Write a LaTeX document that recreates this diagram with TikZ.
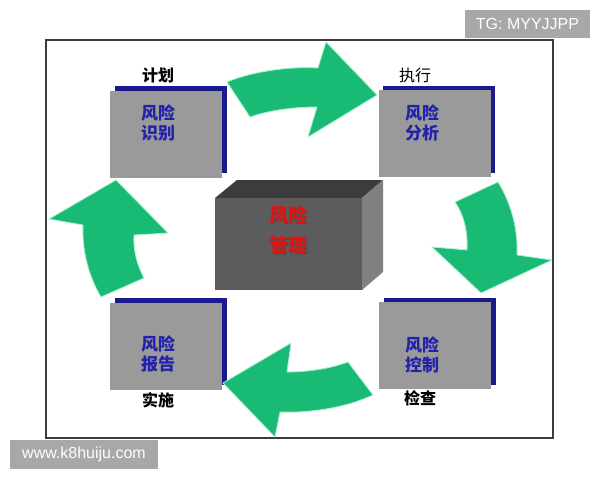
\documentclass[tikz,border=0pt]{standalone}
\usepackage{fontspec}
\setmainfont{Liberation Sans}
\newfontfamily\cjk{Noto Sans CJK SC}
\definecolor{arrowgreen}{RGB}{24,186,116}
\definecolor{arrowglow}{RGB}{170,240,205}
\definecolor{boxgray}{RGB}{154,154,154}
\definecolor{lineblue}{RGB}{26,26,140}
\definecolor{textblue}{RGB}{34,34,170}
\definecolor{frontgray}{RGB}{92,92,92}
\definecolor{topgray}{RGB}{60,60,60}
\definecolor{sidegray}{RGB}{128,128,128}
\definecolor{framegray}{RGB}{60,60,60}
\definecolor{wmgray}{RGB}{168,168,168}
\definecolor{redtext}{RGB}{225,20,20}
\begin{document}
\begin{tikzpicture}[x=1pt,y=-1pt,
  grayboxstyle/.style={fill=boxgray, minimum width=112pt, minimum height=87pt, inner sep=0pt},
  blueshadow/.style={fill=lineblue, minimum width=112pt, minimum height=87pt, inner sep=0pt},
  boxtext/.style={text=textblue, font={\cjk\bfseries\fontsize{17}{20}\selectfont}, align=center, inner sep=0pt},
  steplabel/.style={text=black, font={\cjk\bfseries\fontsize{16}{18}\selectfont}, inner sep=0pt},
  greenarrow/.style={fill=arrowgreen, draw=arrowglow, line width=0.8pt, line join=round},
  wmbox/.style={fill=wmgray, text=white, font={\fontsize{16}{18}\selectfont}, inner sep=0pt}
]
\useasboundingbox (0,0) rectangle (600,480);
\fill[white] (0,0) rectangle (600,480);

% frame
\draw[framegray, line width=1.1pt] (46,40) rectangle (553,438);

% watermarks
\node[wmbox, minimum width=125pt, minimum height=28pt] (wm1) at (527.5,24) {TG: MYYJJPP};
\node[wmbox, minimum width=148pt, minimum height=29pt] (wm2) at (84,454.5) {www.k8huiju.com};

% boxes: blue shadow then gray
\foreach \n/\x/\y in {tl/166/134, tr/434.5/133.5, bl/166/346, br/435/345.5}{
  \node[blueshadow, xshift=4.5pt, yshift=4.5pt] (s\n) at (\x,\y) {};
  \node[grayboxstyle] (b\n) at (\x,\y) {};
}

\node[boxtext] (ttl) at (158,123) {风险\\识别};
\node[boxtext] (ttr) at (422,122.5) {风险\\分析};
\node[boxtext] (tbl) at (158,354) {风险\\报告};
\node[boxtext] (tbr) at (422,355) {风险\\控制};

\node[steplabel] (l1) at (158,75) {计划};
\node[steplabel, font={\cjk\fontsize{16}{18}\selectfont}] (l2) at (415,75) {执行};
\node[steplabel] (l3) at (158,400) {实施};
\node[steplabel] (l4) at (420,398) {检查};

% center block
\fill[topgray] (215,198) -- (237,180) -- (383,180) -- (362,198) -- cycle;
\fill[sidegray] (362,198) -- (383,180) -- (383,272) -- (362,290) -- cycle;
\node[fill=frontgray, minimum width=147pt, minimum height=92pt, inner sep=0pt] (core) at (288.5,244) {};
\node[text=black!70, font={\cjk\bfseries\fontsize{19}{30}\selectfont}, align=center, inner sep=0pt] (coretxts) at (289.2,231.2) {风险\\管理};
\node[text=redtext, font={\cjk\bfseries\fontsize{19}{30}\selectfont}, align=center, inner sep=0pt] (coretxt) at (288,230) {风险\\管理};

% green arrows
\path[greenarrow] (227,82) .. controls (248,73) and (285,66) .. (318,68) -- (326,42) -- (377,95) -- (308,137) -- (317,107) .. controls (295,107) and (270,110) .. (250,117) -- cycle;
\path[greenarrow] (498,182) .. controls (512,205) and (518,230) .. (517,255) -- (552,260) -- (481,293) -- (432,247) -- (467,250) .. controls (468,232) and (464,215) .. (455,202) -- cycle;
\path[greenarrow] (373,395) .. controls (345,408) and (310,413) .. (280,412) -- (275,437) -- (223,383) -- (291,343) -- (287,372) .. controls (310,372) and (332,368) .. (348,362) -- cycle;
\path[greenarrow] (101,297) .. controls (88,275) and (82,250) .. (83,225) -- (49,219) -- (116,180) -- (168,233) -- (134,235) .. controls (133,250) and (137,265) .. (144,278) -- cycle;
\end{tikzpicture}
\end{document}
